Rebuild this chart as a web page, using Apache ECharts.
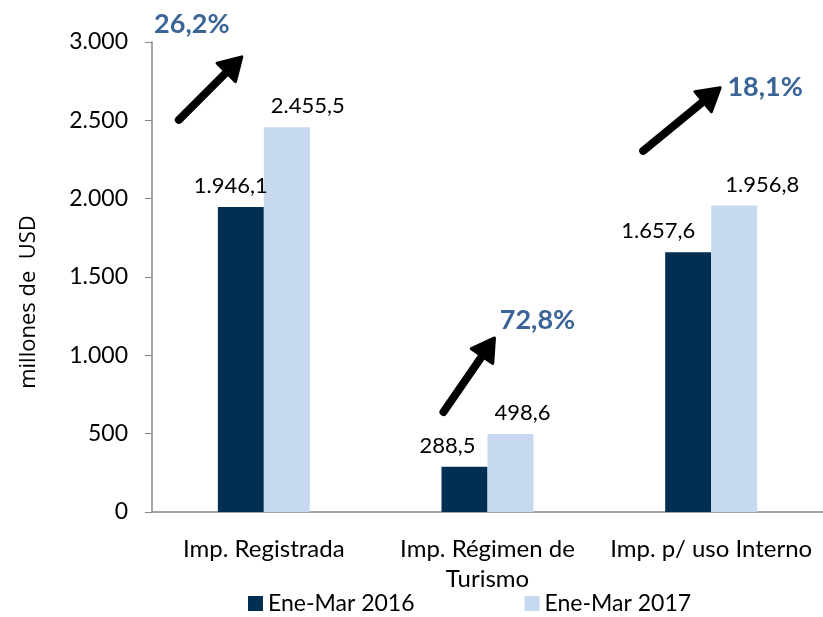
<!DOCTYPE html>
<html><head><meta charset="utf-8">
<script src="https://cdn.jsdelivr.net/npm/echarts@6/dist/echarts.min.js"></script>
<style>html,body{margin:0;padding:0;background:#fff}#c{width:823px;height:617px}</style>
</head><body><div id="c"></div>
<script>
const categories = ['Imp. Registrada', 'Imp. Régimen de\nTurismo', 'Imp. p/ uso Interno'];
const seriesNames = ['Ene-Mar 2016', 'Ene-Mar 2017'];
const values2016 = [1946.1, 288.5, 1657.6];
const values2017 = [2455.5, 498.6, 1956.8];
const growthLabels = ['26,2%', '72,8%', '18,1%'];
const yTicks = [0, 500, 1000, 1500, 2000, 2500, 3000];

// label horizontal nudges (layout only)
const off2016 = [-10, -17, -30];
const off2017 = [21, 12, 28];

const FONT = 'Lato';
function fmt(v){
  const s = v.toFixed(1).split('.');
  const int = s[0].replace(/\B(?=(\d{3})+(?!\d))/g, '.');
  return int + ',' + s[1];
}
function items(vals, offs){
  return vals.map((v,i)=>({value:v, label:{offset:[offs[i],0]}}));
}
const chart = echarts.init(document.getElementById('c'));
const option = {
  animation:false,
  textStyle:{fontFamily:FONT},
  grid:{left:152,right:0,top:42,bottom:105,containLabel:false},
  legend:{
    bottom:-3,left:243,itemWidth:15,itemHeight:15,itemGap:110,
    icon:'rect',
    textStyle:{fontFamily:FONT,fontSize:23,color:'#000'},
    data:seriesNames
  },
  xAxis:{
    type:'category',data:categories,
    axisLine:{lineStyle:{color:'#888',width:1.5}},
    axisTick:{show:false},
    axisLabel:{color:'#000',fontSize:24,fontFamily:FONT,margin:22,lineHeight:30,interval:0}
  },
  yAxis:{
    type:'value',min:0,max:3000,interval:500,
    name:'millones de  USD',nameLocation:'middle',nameRotate:90,nameGap:112,
    nameTextStyle:{fontSize:22,color:'#000',fontFamily:'Open Sans',padding:[0,50,0,0]},
    axisLine:{show:true,lineStyle:{color:'#888',width:1.5}},
    axisTick:{show:true,length:7,lineStyle:{color:'#888'}},
    splitLine:{show:false},
    axisLabel:{color:'#000',fontSize:23,fontFamily:FONT,margin:24,
      formatter:v=>yTicks.includes(v)?String(v).replace(/\B(?=(\d{3})+(?!\d))/g,'.'):''}
  },
  series:[
    {name:seriesNames[0],type:'bar',data:items(values2016,off2016),barWidth:46,barGap:'0%',
      itemStyle:{color:'#022E52'},
      label:{show:true,position:'top',distance:10,fontSize:22,color:'#000',fontFamily:FONT,formatter:p=>fmt(p.value)}},
    {name:seriesNames[1],type:'bar',data:items(values2017,off2017),barWidth:46,
      itemStyle:{color:'#C6D9F0'},
      label:{show:true,position:'top',distance:10,fontSize:22,color:'#000',fontFamily:FONT,formatter:p=>fmt(p.value)}}
  ]
};
chart.setOption(option);

// arrows: [category index, dx tail, value tail, dx head, value head]
const arrows = [[0,-85,2503,-22,2905],[1,-44,638,7,1111],[2,-68,2305,9,2708]];
const pctPos = [[0,-72,3116],[1,50,1226],[2,54,2708]];
const g = [];
function px(ci,dx,v){
  const p = chart.convertToPixel({gridIndex:0},[ci,v]);
  return [p[0]+dx,p[1]];
}
arrows.forEach(a=>{
  const t = px(a[0],a[1],a[2]);
  const h = px(a[0],a[3],a[4]);
  const ang = Math.atan2(h[1]-t[1],h[0]-t[0]);
  const L = 22, W = 13;
  const bx = h[0]-L*Math.cos(ang), by = h[1]-L*Math.sin(ang);
  const nx = -Math.sin(ang), ny = Math.cos(ang);
  g.push({type:'line',shape:{x1:t[0],y1:t[1],x2:bx+2*Math.cos(ang),y2:by+2*Math.sin(ang)},
    style:{stroke:'#000',lineWidth:8,lineCap:'round'},z:10});
  g.push({type:'polygon',shape:{points:[[h[0],h[1]],[bx+nx*W,by+ny*W],[bx-nx*W,by-ny*W]]},
    style:{fill:'#000',stroke:'#000',lineWidth:3,lineJoin:'round'},z:10});
});
pctPos.forEach((p,i)=>{
  const q = px(p[0],p[1],p[2]);
  g.push({type:'text',x:q[0],y:q[1],style:{text:growthLabels[i],fill:'#3A6496',
    font:'bold 27px '+FONT,align:'center',verticalAlign:'middle'},z:10});
});
chart.setOption({graphic:g});
</script></body></html>
